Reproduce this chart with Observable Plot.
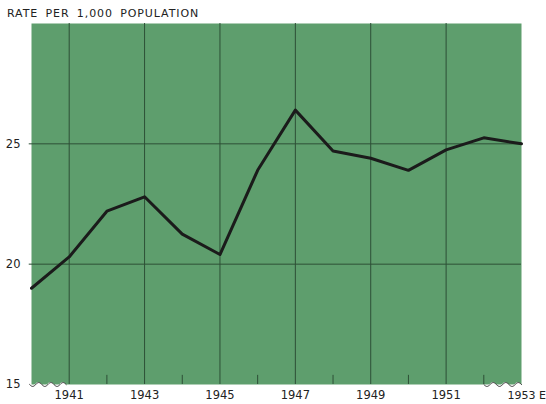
<!DOCTYPE html>
<html><head><meta charset="utf-8">
<script src="https://cdn.jsdelivr.net/npm/d3@7"></script>
<script src="https://cdn.jsdelivr.net/npm/@observablehq/plot@0.6"></script>
<style>
body{margin:0;background:#fff;font-family:"DejaVu Sans",sans-serif;}
#title{height:22px;box-sizing:border-box;padding:8px 0 0 7px;font-size:11px;line-height:11px;letter-spacing:0.9px;word-spacing:3px;color:#222;white-space:nowrap;}
#chart svg{display:block;}
</style></head><body>
<div id="title">RATE PER 1,000 POPULATION</div>
<div id="chart"></div>
<script>
const years = [1940,1941,1942,1943,1944,1945,1946,1947,1948,1949,1950,1951,1952,1953];
const rates = [19.0,20.3,22.2,22.8,21.25,20.4,23.9,26.4,24.7,24.4,23.9,24.75,25.25,25.0];
const labeledYears = [1941,1943,1945,1947,1949,1951,1953];
const tickLabels = ["1941","1943","1945","1947","1949","1951","1953 E"];
const minorYears = [1942,1944,1946,1948,1950,1952];
const yTicks = [15,20,25];
const gridValues = [20,25];

const data = years.map((y,i)=>({year:y, rate:rates[i]}));
const labels = labeledYears.map((y,i)=>({year:y, text:tickLabels[i]}));
const mainLabels = labels.slice(0,-1);
const lastLabel = labels.slice(-1);

// axis-break squiggles (decoration)
function wave(x0,x1,periods){
  return d3.range(0,61).map(k=>{const t=k/60;return {x:x0+(x1-x0)*t, y:15.0-0.08*Math.sin(t*periods*2*Math.PI)};});
}
const leftWave = wave(1939.95,1940.92,3);
const rightWave = wave(1952.0,1953.0,3);

const green = "#5e9e6d";
const gridColor = "#2d4f36";

const chart = Plot.plot({
  width:546, height:382,
  marginTop:1, marginBottom:20, marginLeft:31, marginRight:25,
  x:{domain:[1940,1953], axis:null},
  y:{domain:[15,30], axis:null},
  style:{fontFamily:"DejaVu Sans, sans-serif", fontSize:"11px", color:"#222", background:"#fff"},
  marks:[
    Plot.frame({fill:green, stroke:null}),
    Plot.ruleY(gridValues,{x1:1939.94, x2:1953, stroke:gridColor, strokeWidth:1}),
    Plot.ruleX(labeledYears.slice(0,-1),{y1:15, y2:30, stroke:gridColor, strokeWidth:1}),
    Plot.ruleX(minorYears,{y1:15, y2:15.38, stroke:gridColor, strokeWidth:1}),
    Plot.areaY(leftWave,{x:"x", y1:14.7, y2:"y", fill:"#fff"}),
    Plot.areaY(rightWave,{x:"x", y1:14.7, y2:"y", fill:"#fff"}),
    Plot.line(leftWave,{x:"x", y:"y", stroke:"#333", strokeWidth:1}),
    Plot.line(rightWave,{x:"x", y:"y", stroke:"#333", strokeWidth:1}),
    Plot.line(data,{x:"year", y:"rate", stroke:"#1b1b1b", strokeWidth:3, strokeLinejoin:"round", strokeLinecap:"round"}),
    Plot.axisY({ticks:yTicks, tickSize:0, tickPadding:11, label:null, fontSize:11.5}),
    Plot.text(mainLabels,{x:"year", text:"text", frameAnchor:"bottom", dy:14, fontSize:11.5}),
    Plot.text(lastLabel,{x:"year", text:"text", frameAnchor:"bottom", dy:14, textAnchor:"start", dx:-14, fontSize:11})
  ]
});
document.getElementById("chart").appendChild(chart);
</script>
</body></html>
